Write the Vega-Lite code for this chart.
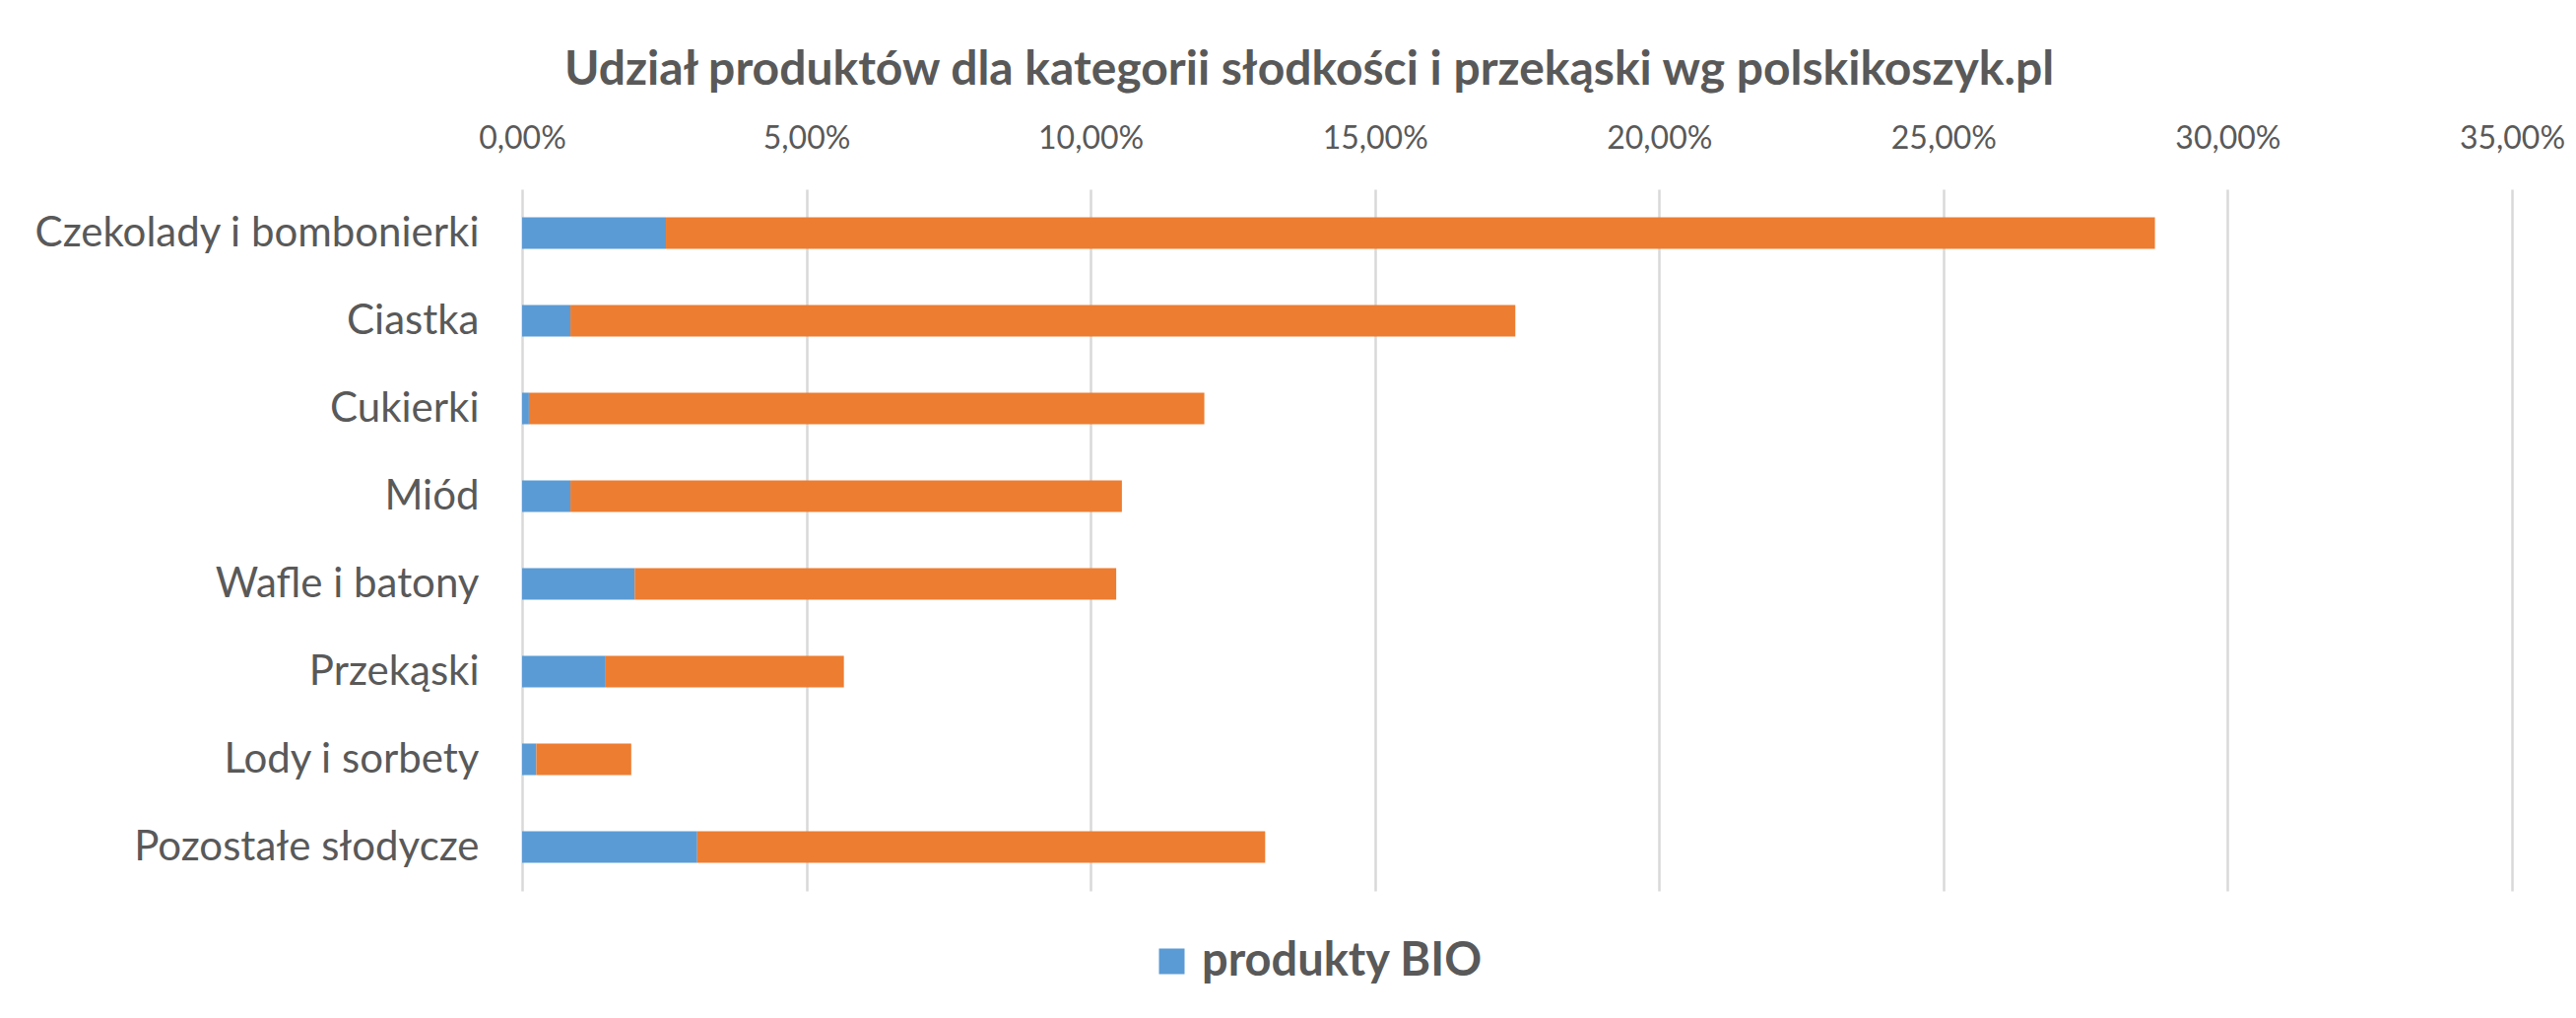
{
  "$schema": "https://vega.github.io/schema/vega-lite/v6.json",
  "autosize": {"type": "none"},
  "width": 2020,
  "height": 712,
  "padding": {"left": 530, "top": 192, "right": 65, "bottom": 129},
  "background": "white",
  "title": {
    "text": "Udział produktów dla kategorii słodkości i przekąski wg polskikoszyk.pl",
    "font": "Lato",
    "fontWeight": "bold",
    "fontSize": 48,
    "color": "#595959",
    "anchor": "middle",
    "frame": "group",
    "dx": -211,
    "offset": 28
  },
  "data": {
    "values": [
      {"kategoria": "Czekolady i bombonierki", "seria": "produkty BIO", "udzial": 0.0253},
      {"kategoria": "Czekolady i bombonierki", "seria": "produkty konwencjonalne", "udzial": 0.2619},
      {"kategoria": "Ciastka", "seria": "produkty BIO", "udzial": 0.0085},
      {"kategoria": "Ciastka", "seria": "produkty konwencjonalne", "udzial": 0.1662},
      {"kategoria": "Cukierki", "seria": "produkty BIO", "udzial": 0.0012},
      {"kategoria": "Cukierki", "seria": "produkty konwencjonalne", "udzial": 0.1188},
      {"kategoria": "Miód", "seria": "produkty BIO", "udzial": 0.0085},
      {"kategoria": "Miód", "seria": "produkty konwencjonalne", "udzial": 0.0970},
      {"kategoria": "Wafle i batony", "seria": "produkty BIO", "udzial": 0.0198},
      {"kategoria": "Wafle i batony", "seria": "produkty konwencjonalne", "udzial": 0.0847},
      {"kategoria": "Przekąski", "seria": "produkty BIO", "udzial": 0.0147},
      {"kategoria": "Przekąski", "seria": "produkty konwencjonalne", "udzial": 0.0419},
      {"kategoria": "Lody i sorbety", "seria": "produkty BIO", "udzial": 0.0025},
      {"kategoria": "Lody i sorbety", "seria": "produkty konwencjonalne", "udzial": 0.0167},
      {"kategoria": "Pozostałe słodycze", "seria": "produkty BIO", "udzial": 0.0308},
      {"kategoria": "Pozostałe słodycze", "seria": "produkty konwencjonalne", "udzial": 0.0999}
    ]
  },
  "mark": {"type": "bar"},
  "encoding": {
    "y": {
      "field": "kategoria",
      "type": "nominal",
      "sort": null,
      "scale": {"paddingInner": 0.64, "paddingOuter": 0.32},
      "axis": {
        "title": null,
        "domain": false,
        "ticks": false,
        "labelFont": "Lato",
        "labelFontSize": 42,
        "labelColor": "#595959",
        "labelPadding": 44,
        "labelLimit": 600
      }
    },
    "x": {
      "field": "udzial",
      "type": "quantitative",
      "stack": "zero",
      "scale": {"domain": [0, 0.35], "nice": false},
      "axis": {
        "orient": "top",
        "title": null,
        "values": [0, 0.05, 0.1, 0.15, 0.2, 0.25, 0.3, 0.35],
        "labelExpr": "replace(format(datum.value, '.2%'), '.', ',')",
        "domain": false,
        "ticks": false,
        "grid": true,
        "gridColor": "#D9D9D9",
        "gridWidth": 2.5,
        "labelFont": "Lato",
        "labelFontSize": 32,
        "labelColor": "#595959",
        "labelPadding": 35,
        "labelFlush": false
      }
    },
    "color": {
      "field": "seria",
      "type": "nominal",
      "scale": {"domain": ["produkty BIO", "produkty konwencjonalne"], "range": ["#5B9BD5", "#ED7D31"]},
      "legend": {
        "values": ["produkty BIO"],
        "title": null,
        "orient": "none",
        "legendX": 636,
        "legendY": 760,
        "symbolType": "square",
        "symbolSize": 676,
        "symbolStrokeWidth": 0,
        "labelFont": "Lato",
        "labelFontWeight": "bold",
        "labelFontSize": 47,
        "labelColor": "#595959",
        "labelOffset": 7,
        "labelLimit": 600
      }
    },
    "order": {"field": "seria", "sort": "ascending"}
  },
  "config": {"view": {"stroke": null}}
}
